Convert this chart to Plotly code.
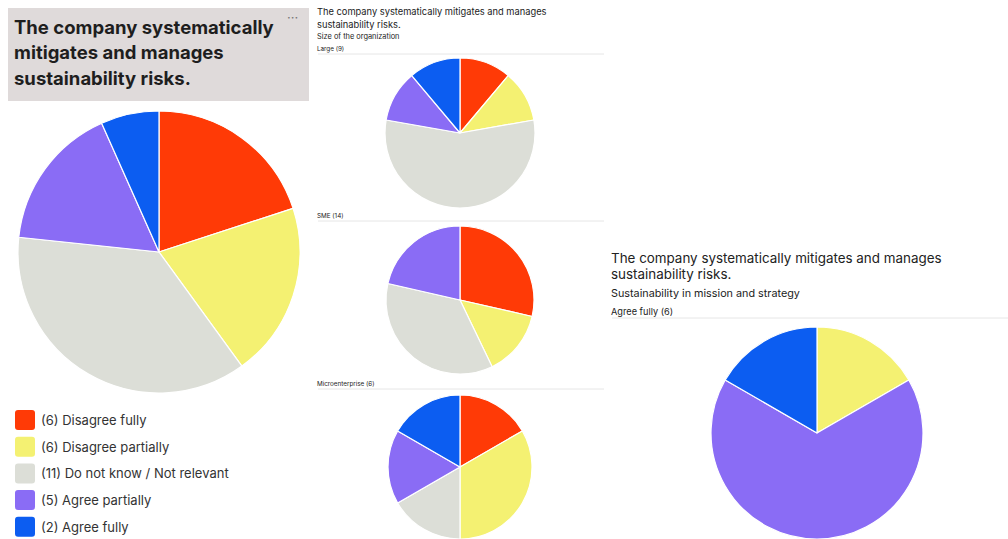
import plotly.graph_objects as go

W, H = 1008, 539

# Answer categories and their colours
categories = ["Disagree fully", "Disagree partially", "Do not know / Not relevant",
              "Agree partially", "Agree fully"]
colors = ["#FF3A06", "#F4F172", "#DCDED7", "#8A6CF5", "#0C5DF1"]

# Overall responses
overall = [6, 6, 11, 5, 2]

# Responses by size of the organization
large = [1, 1, 5, 1, 1]
sme = [4, 2, 5, 3, 0]
micro = [1, 2, 1, 1, 1]

# Responses where sustainability in mission and strategy is "Agree fully"
mission_agree_fully = [0, 1, 0, 4, 1]

size_groups = [("Large", large), ("SME", sme), ("Microenterprise", micro)]


def dom(cx, cy, r):
    x0, x1 = (cx - r) / W, (cx + r) / W
    y0, y1 = 1 - (cy + r) / H, 1 - (cy - r) / H
    return dict(x=[max(0, x0), min(1, x1)], y=[max(0, y0), min(1, y1)])


def pie(values, cx, cy, r):
    labs = [c for c, v in zip(categories, values) if v > 0]
    vals = [v for v in values if v > 0]
    cols = [col for col, v in zip(colors, values) if v > 0]
    return go.Pie(labels=labs, values=vals, sort=False, direction="clockwise",
                  rotation=0, textinfo="none", hoverinfo="label+value",
                  marker=dict(colors=cols, line=dict(color="white", width=1.2)),
                  domain=dom(cx, cy, r), showlegend=False)


fig = go.Figure()
fig.add_trace(pie(overall, 159, 252, 141))
fig.add_trace(pie(large, 460, 133, 75))
fig.add_trace(pie(sme, 460, 300, 74))
fig.add_trace(pie(micro, 460, 467, 72))
fig.add_trace(pie(mission_agree_fully, 817, 433, 106))

shapes = []
annotations = []


def px_x(x):
    return x / W


def px_y(y):
    return 1 - y / H


def text(x, y, s, size, color="#222222", family="Inter", xanchor="left"):
    # annotations carry ~3px of padding, so shift left to start at x
    xx = x - 3 if xanchor == "left" else x
    annotations.append(dict(x=px_x(xx), y=px_y(y), xref="paper", yref="paper",
                            text=s, showarrow=False, xanchor=xanchor, yanchor="middle",
                            align="left", font=dict(size=size, color=color, family=family)))


def hline(x0, x1, y, color="#E6E6E6"):
    shapes.append(dict(type="line", xref="paper", yref="paper",
                       x0=px_x(x0), x1=px_x(x1), y0=px_y(y), y1=px_y(y),
                       line=dict(color=color, width=1)))


# Left panel: title card
shapes.append(dict(type="rect", xref="paper", yref="paper",
                   x0=px_x(8), x1=px_x(309), y0=px_y(101), y1=px_y(8),
                   fillcolor="#DFDADA", line=dict(width=0), layer="below"))
title_lines = ["The company systematically", "mitigates and manages", "sustainability risks."]
for i, ln in enumerate(title_lines):
    text(15, 27 + i * 25.5, "<b>" + ln + "</b>", 18.5, color="#1E1E1E")
text(292, 17, "···", 13, color="#777777", xanchor="center")

# Left panel: legend
for i, (cat, col, n) in enumerate(zip(categories, colors, overall)):
    yc = 420 + i * 26.7
    x0, x1, y0, y1 = 15, 35, yc - 10, yc + 10
    rad = 3
    path = (f"M {px_x(x0 + rad)},{px_y(y0)} L {px_x(x1 - rad)},{px_y(y0)} "
            f"Q {px_x(x1)},{px_y(y0)} {px_x(x1)},{px_y(y0 + rad)} "
            f"L {px_x(x1)},{px_y(y1 - rad)} Q {px_x(x1)},{px_y(y1)} {px_x(x1 - rad)},{px_y(y1)} "
            f"L {px_x(x0 + rad)},{px_y(y1)} Q {px_x(x0)},{px_y(y1)} {px_x(x0)},{px_y(y1 - rad)} "
            f"L {px_x(x0)},{px_y(y0 + rad)} Q {px_x(x0)},{px_y(y0)} {px_x(x0 + rad)},{px_y(y0)} Z")
    shapes.append(dict(type="path", xref="paper", yref="paper", path=path,
                       fillcolor=col, line=dict(width=0)))
    text(42, yc, f"({n}) {cat}", 13, color="#333333")

# Middle panel: breakdown by organization size
text(318, 12, "The company systematically mitigates and manages", 9.3)
text(318, 24, "sustainability risks.", 9.3)
text(318, 37, "Size of the organization", 7.4)
label_y = [49, 216, 384]
for (name, vals), ly in zip(size_groups, label_y):
    text(318, ly, f"{name} ({sum(vals)})", 6.3)
    hline(318, 604, ly + 5)

# Right panel: sustainability in mission and strategy
text(612, 258, "The company systematically mitigates and manages", 13.4)
text(612, 274, "sustainability risks.", 13.4)
text(612, 293, "Sustainability in mission and strategy", 10.8)
text(612, 311, f"Agree fully ({sum(mission_agree_fully)})", 9.2)
hline(612, 1008, 318)

fig.update_layout(width=W, height=H, margin=dict(l=0, r=0, t=0, b=0),
                  paper_bgcolor="white", plot_bgcolor="white",
                  shapes=shapes, annotations=annotations, showlegend=False)

fig.write_html("out.html")
